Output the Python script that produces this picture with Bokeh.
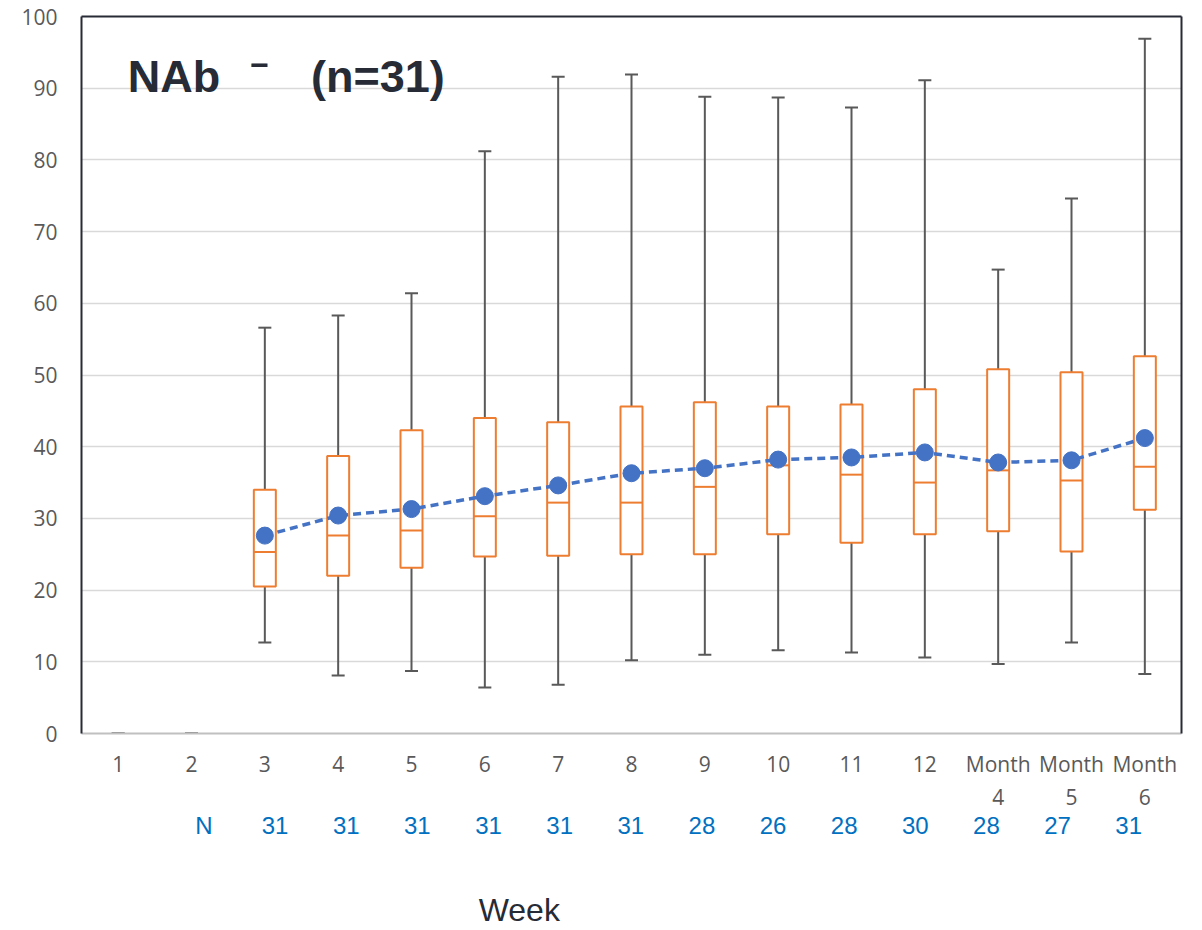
import numpy as np
from bokeh.plotting import figure
from bokeh.models import (ColumnDataSource, FixedTicker, LinearAxis, Label, Range1d)
from bokeh.embed import file_html
from bokeh.resources import INLINE

nan = float("nan")
categories = ["1", "2", "3", "4", "5", "6", "7", "8", "9", "10", "11", "12",
              "Month\n4", "Month\n5", "Month\n6"]
whisker_low = [0, 0, 12.7, 8.1, 8.7, 6.4, 6.8, 10.2, 11.0, 11.6, 11.3, 10.6, 9.7, 12.7, 8.3]
q1 = [nan, nan, 20.5, 22.0, 23.1, 24.7, 24.8, 25.0, 25.0, 27.8, 26.6, 27.8, 28.2, 25.4, 31.2]
median = [nan, nan, 25.3, 27.6, 28.3, 30.3, 32.2, 32.2, 34.4, 37.4, 36.1, 35.0, 36.7, 35.3, 37.2]
q3 = [nan, nan, 34.0, 38.7, 42.3, 44.0, 43.4, 45.6, 46.2, 45.6, 45.9, 48.0, 50.8, 50.4, 52.6]
whisker_high = [0, 0, 56.6, 58.3, 61.4, 81.2, 91.6, 91.9, 88.8, 88.7, 87.3, 91.1, 64.7, 74.6, 96.9]
mean = [nan, nan, 27.6, 30.4, 31.3, 33.1, 34.6, 36.3, 37.0, 38.2, 38.5, 39.2, 37.8, 38.1, 41.2]
n_counts = ["", "N", "31", "31", "31", "31", "31", "31", "28", "26", "28", "30", "28", "27", "31"]
y_ticks = [0, 10, 20, 30, 40, 50, 60, 70, 80, 90, 100]

xs = list(range(1, len(categories) + 1))
src = ColumnDataSource(dict(x=xs, lo=whisker_low, q1=q1, med=median, q3=q3, hi=whisker_high,
                            mean=mean))

DARK = "#262b36"
GRAY = "#595959"
ORANGE = "#ED7D31"
BLUE = "#4472C4"
NBLUE = "#0070C0"

p = figure(width=1202, height=930, output_backend="svg", toolbar_location=None,
           x_range=Range1d(0.5, len(categories) + 0.5), y_range=Range1d(0, 100),
           min_border_left=81, min_border_right=21, min_border_top=16, min_border_bottom=197)
p.outline_line_color = None
p.background_fill_color = "white"
p.border_fill_color = "white"

# grid
p.xgrid.grid_line_color = None
p.ygrid.grid_line_color = "#d9d9d9"
p.ygrid.grid_line_width = 1.5
p.ygrid.ticker = FixedTicker(ticks=y_ticks)

# y axis
p.yaxis.ticker = FixedTicker(ticks=y_ticks)
p.yaxis.axis_line_color = DARK
p.yaxis.axis_line_width = 2
p.yaxis.major_tick_line_color = None
p.yaxis.minor_tick_line_color = None
p.yaxis.major_label_text_font = "Open Sans"
p.yaxis.major_label_text_font_size = "21px"
p.yaxis.major_label_text_color = GRAY
p.yaxis.major_label_standoff = 18

# x axis
p.xaxis.ticker = FixedTicker(ticks=xs)
p.xaxis.major_label_overrides = {x: c for x, c in zip(xs, categories)}
p.xaxis.axis_line_color = "#c0c0c0"
p.xaxis.axis_line_width = 2
p.xaxis.major_tick_line_color = None
p.xaxis.minor_tick_line_color = None
p.xaxis.major_label_text_font = "Open Sans"
p.xaxis.major_label_text_font_size = "21px"
p.xaxis.major_label_text_color = GRAY
p.xaxis.major_label_standoff = 10

# N row as an extra axis below
n_pos = [round(x + 0.2 - 0.03 * i, 2) for i, x in enumerate(xs)]
n_axis = LinearAxis(ticker=FixedTicker(ticks=n_pos[1:]),
                    major_label_overrides={pos: t for pos, t in zip(n_pos[1:], n_counts[1:])},
                    axis_line_color=None, major_tick_line_color=None, minor_tick_line_color=None,
                    major_label_text_font="Liberation Sans", major_label_text_font_size="24px",
                    major_label_text_color=NBLUE, major_label_standoff=-9)
p.add_layout(n_axis, "below")

# "Week" title as another axis below
week_axis = LinearAxis(ticker=FixedTicker(ticks=[6.47]), major_label_overrides={6.47: "Week"},
                       axis_line_color=None, major_tick_line_color=None,
                       minor_tick_line_color=None,
                       major_label_text_font="Liberation Sans", major_label_text_font_size="32px",
                       major_label_text_color=DARK, major_label_standoff=44)
p.add_layout(week_axis, "below")

# top / right frame lines
top = LinearAxis(ticker=FixedTicker(ticks=[]), axis_line_color=DARK, axis_line_width=2,
                 major_tick_line_color=None, minor_tick_line_color=None,
                 major_label_text_font_size="0px")
right = LinearAxis(ticker=FixedTicker(ticks=[]), axis_line_color=DARK, axis_line_width=2,
                   major_tick_line_color=None, minor_tick_line_color=None,
                   major_label_text_font_size="0px")
p.add_layout(top, "above")
p.add_layout(right, "right")

# whiskers
p.segment(x0="x", y0="lo", x1="x", y1="hi", source=src, line_color=GRAY, line_width=2)
p.dash(x="x", y="lo", source=src, size=13, angle=0, line_color=GRAY, line_width=2)
p.dash(x="x", y="hi", source=src, size=13, angle=0, line_color=GRAY, line_width=2)

# boxes
p.vbar(x="x", bottom="q1", top="q3", width=0.3, source=src, fill_color="white",
       line_color=ORANGE, line_width=2)
p.dash(x="x", y="med", source=src, size=22, angle=0, line_color=ORANGE, line_width=2)

# means
p.line(x="x", y="mean", source=src, line_color=BLUE, line_width=3.5, line_dash="8 5")
p.scatter(x="x", y="mean", source=src, size=17, fill_color=BLUE, line_color=BLUE)

# title
tf = "Liberation Sans"
p.add_layout(Label(x=1.13, y=91.6, text="NAb", text_font=tf, text_font_size="45px",
                   text_font_style="bold", text_color=DARK, text_baseline="alphabetic"))
p.add_layout(Label(x=2.80, y=93.2, text="\u2212", text_font=tf, text_font_size="32px",
                   text_font_style="bold", text_color=DARK, text_baseline="middle"))
p.add_layout(Label(x=3.63, y=91.6, text="(n=31)", text_font=tf, text_font_size="45px",
                   text_font_style="bold", text_color=DARK, text_baseline="alphabetic"))

open("out.html", "w").write(file_html(p, INLINE))
